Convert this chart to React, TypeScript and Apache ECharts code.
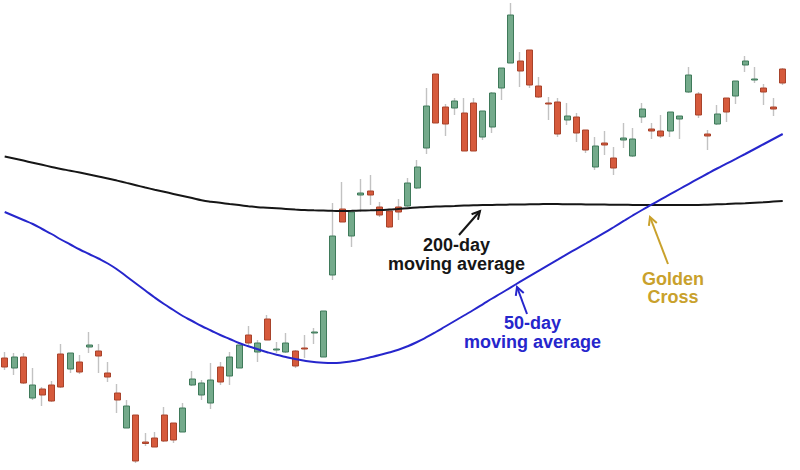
import React, { useEffect, useRef } from "react";
import * as echarts from "echarts";

// Daily candles: [open, close, low, high]
const candles: [number, number, number, number][] = [
  [14.2, 13.3, 13.0, 14.8], [13.2, 14.3, 12.5, 14.7], [14.3, 11.7, 11.6, 14.7], [10.2, 11.5, 10.0, 13.2],
  [11.1, 10.5, 9.4, 11.3], [11.5, 9.9, 9.8, 11.9], [14.6, 11.3, 11.2, 15.6], [13.1, 14.7, 12.7, 14.7],
  [13.8, 12.8, 12.6, 14.5], [15.3, 15.5, 14.7, 16.8], [14.9, 14.4, 12.7, 15.6], [12.7, 12.3, 11.8, 13.8],
  [10.7, 10.0, 8.7, 11.6], [7.2, 9.4, 7.2, 10.0], [8.5, 3.9, 3.7, 8.5], [5.8, 5.65, 5.4, 6.7],
  [6.2, 5.3, 5.3, 6.8], [8.5, 5.9, 5.8, 9.3], [7.7, 6.0, 5.7, 7.7], [6.8, 9.2, 6.8, 9.7],
  [11.5, 12.1, 11.4, 12.9], [10.5, 11.7, 10.0, 12.0], [9.7, 12.0, 9.1, 13.7], [13.3, 11.8, 11.5, 13.8],
  [12.4, 14.3, 11.5, 14.8], [13.2, 15.5, 13.2, 15.5], [16.5, 15.7, 15.5, 17.4], [14.8, 15.7, 13.8, 16.0],
  [18.1, 16.0, 16.0, 18.5], [15.0, 15.1, 14.7, 15.8], [14.8, 15.7, 14.7, 16.7], [14.9, 13.4, 13.2, 15.0],
  [15.2, 15.1, 14.2, 16.5], [16.7, 16.8, 15.6, 17.2], [14.3, 18.9, 14.3, 18.9], [22.5, 26.4, 22.0, 29.7],
  [29.1, 27.8, 27.8, 31.8], [26.4, 28.8, 25.3, 28.8], [30.5, 30.7, 28.8, 32.1], [30.9, 30.5, 29.5, 32.5],
  [29.3, 28.5, 28.3, 29.8], [28.9, 27.3, 27.2, 29.0], [29.3, 28.8, 28.0, 30.1], [29.4, 31.7, 29.3, 32.2],
  [31.2, 33.3, 31.1, 34.0], [35.2, 39.4, 34.6, 41.2], [42.6, 37.7, 37.7, 42.6], [39.3, 37.6, 36.4, 39.6],
  [39.2, 39.9, 38.5, 40.2], [38.7, 34.9, 34.9, 40.2], [39.7, 34.9, 34.9, 40.2], [36.3, 38.9, 36.0, 38.9],
  [37.3, 40.7, 36.7, 40.8], [41.2, 43.2, 40.0, 43.2], [43.7, 48.5, 43.7, 49.7], [43.9, 42.9, 41.3, 44.8],
  [45.0, 41.5, 41.2, 45.0], [41.4, 40.3, 40.2, 42.3], [39.7, 39.6, 38.0, 40.3], [39.8, 36.6, 36.3, 40.2],
  [38.0, 38.4, 37.5, 39.7], [38.3, 36.7, 35.8, 38.7], [37.0, 35.0, 34.7, 37.0], [33.3, 35.4, 33.0, 36.3],
  [35.7, 35.5, 34.5, 36.9], [34.2, 33.2, 32.5, 35.3], [36.0, 36.2, 35.2, 37.7], [34.4, 36.1, 34.3, 37.2],
  [38.3, 39.1, 37.7, 39.7], [37.1, 36.9, 36.1, 37.7], [36.9, 36.4, 36.2, 38.5], [36.9, 38.8, 36.3, 38.8],
  [38.1, 38.4, 36.1, 38.4], [40.8, 42.5, 40.7, 43.3], [40.6, 38.5, 38.2, 40.8], [36.6, 36.4, 35.0, 37.0],
  [37.6, 38.6, 37.5, 39.5], [40.2, 38.8, 37.8, 40.2], [40.4, 41.9, 39.6, 41.9], [43.5, 43.9, 42.8, 44.4],
  [42.0, 42.1, 41.7, 43.3], [41.2, 40.8, 39.5, 41.6], [39.3, 39.1, 38.4, 40.2], [43.1, 41.7, 41.5, 43.2],
];

// 200-day moving average
const ma200: number[] = [
  34.35, 34.15, 33.94, 33.73, 33.52, 33.31, 33.11, 32.93, 32.74, 32.55,
  32.36, 32.16, 31.94, 31.71, 31.48, 31.25, 31.03, 30.82, 30.61, 30.4,
  30.19, 29.98, 29.83, 29.72, 29.6, 29.49, 29.38, 29.28, 29.23, 29.17,
  29.11, 29.05, 29.0, 28.97, 28.95, 28.92, 28.9, 28.92, 28.95, 28.97,
  28.99, 29.04, 29.11, 29.18, 29.25, 29.31, 29.34, 29.37, 29.4, 29.44,
  29.47, 29.5, 29.51, 29.53, 29.54, 29.55, 29.57, 29.58, 29.6, 29.59,
  29.58, 29.57, 29.56, 29.55, 29.54, 29.53, 29.52, 29.51, 29.5, 29.5,
  29.5, 29.5, 29.5, 29.5, 29.5, 29.53, 29.57, 29.6, 29.64, 29.68,
  29.73, 29.78, 29.84, 29.9,
];

// 50-day moving average
const ma50: number[] = [
  28.8, 28.4, 28.0, 27.6, 27.1, 26.6, 26.05, 25.55, 25.05, 24.6,
  24.15, 23.65, 23.05, 22.35, 21.65, 20.95, 20.25, 19.6, 19.0, 18.4,
  17.9, 17.4, 16.95, 16.5, 16.1, 15.7, 15.37, 15.07, 14.78, 14.52,
  14.3, 14.1, 13.93, 13.8, 13.72, 13.7, 13.75, 13.87, 14.05, 14.27,
  14.5, 14.75, 15.03, 15.38, 15.8, 16.28, 16.8, 17.35, 17.9, 18.45,
  19.0, 19.57, 20.15, 20.7, 21.27, 21.83, 22.38, 22.93, 23.48, 24.03,
  24.58, 25.12, 25.65, 26.18, 26.73, 27.3, 27.88, 28.45, 29.0, 29.53,
  30.06, 30.58, 31.1, 31.62, 32.14, 32.65, 33.15, 33.63, 34.11, 34.6,
  35.1, 35.6, 36.1, 36.6,
];

const days: string[] = candles.map((_, i) => "Day " + (i + 1));

const FONT = 'bold 18px "Liberation Sans", Arial, Helvetica, sans-serif';
const BLACK = "#161616";
const BLUE = "#2626cc";
const GOLD = "#c9a12c";

function arrow(tail: [number, number], tip: [number, number], color: string): any[] {
  const dx = tip[0] - tail[0];
  const dy = tip[1] - tail[1];
  const len = Math.sqrt(dx * dx + dy * dy);
  const ux = dx / len;
  const uy = dy / len;
  const L = 9;
  const a = (28 * Math.PI) / 180;
  const arm = (s: number): [number, number] => {
    const rx = ux * Math.cos(s * a) - uy * Math.sin(s * a);
    const ry = ux * Math.sin(s * a) + uy * Math.cos(s * a);
    return [tip[0] - L * rx, tip[1] - L * ry];
  };
  return [
    {
      type: "line",
      shape: { x1: tail[0], y1: tail[1], x2: tip[0], y2: tip[1] },
      style: { stroke: color, lineWidth: 2 },
      z: 100,
    },
    {
      type: "polyline",
      shape: { points: [arm(1), tip, arm(-1)] },
      style: { stroke: color, lineWidth: 2, fill: null },
      z: 100,
    },
  ];
}

function label(text: string, x: number, y: number, color: string): any {
  return {
    type: "text",
    x,
    y,
    z: 100,
    style: {
      text,
      fill: color,
      font: FONT,
      lineHeight: 18.5,
      textAlign: "center",
      textVerticalAlign: "middle",
    },
  };
}

export default function App() {
  const ref = useRef<HTMLDivElement>(null);

  useEffect(() => {
    if (!ref.current) return;
    const chart = echarts.init(ref.current, undefined, { renderer: "svg" });
    const bodies = candles.map(([o, c]) => [o, c, Math.min(o, c), Math.max(o, c)]);
    chart.setOption({
      animation: false,
      backgroundColor: "#ffffff",
      grid: { left: -7.23, right: 12.6, top: 0, bottom: 0, containLabel: false },
      xAxis: {
        type: "category",
        data: days,
        show: false,
        boundaryGap: true,
      },
      yAxis: {
        type: "value",
        min: 3,
        max: 50,
        show: false,
        splitLine: { show: false },
      },
      series: [
        {
          name: "wicks",
          type: "candlestick",
          data: candles,
          barWidth: 1,
          itemStyle: {
            color: "#c2c2c2",
            color0: "#c2c2c2",
            borderColor: "#c2c2c2",
            borderColor0: "#c2c2c2",
            borderWidth: 1.4,
          },
          z: 2,
        },
        {
          name: "price",
          type: "candlestick",
          data: bodies,
          barWidth: 6.5,
          itemStyle: {
            color: "#74aa8b",
            color0: "#d65a3c",
            borderColor: "#3f7a5a",
            borderColor0: "#a8432b",
            borderWidth: 1,
          },
          z: 3,
        },
        {
          name: "200-day MA",
          type: "line",
          data: ma200,
          smooth: true,
          symbol: "none",
          lineStyle: { color: BLACK, width: 2 },
          z: 5,
        },
        {
          name: "50-day MA",
          type: "line",
          data: ma50,
          smooth: true,
          symbol: "none",
          lineStyle: { color: BLUE, width: 2 },
          z: 6,
        },
      ],
      graphic: [
        label("200-day\nmoving average", 456.5, 254.5, BLACK),
        ...arrow([459, 235], [480, 211], BLACK),
        label("50-day\nmoving average", 532.5, 332.5, BLUE),
        ...arrow([527, 314], [517, 287], BLUE),
        label("Golden\nCross", 673, 288, GOLD),
        ...arrow([668, 264], [650, 217], GOLD),
      ],
    });
    return () => chart.dispose();
  }, []);

  return (
    <div
      ref={ref}
      style={{ position: "fixed", left: 0, top: 0, width: 800, height: 470, background: "#fff" }}
    />
  );
}
